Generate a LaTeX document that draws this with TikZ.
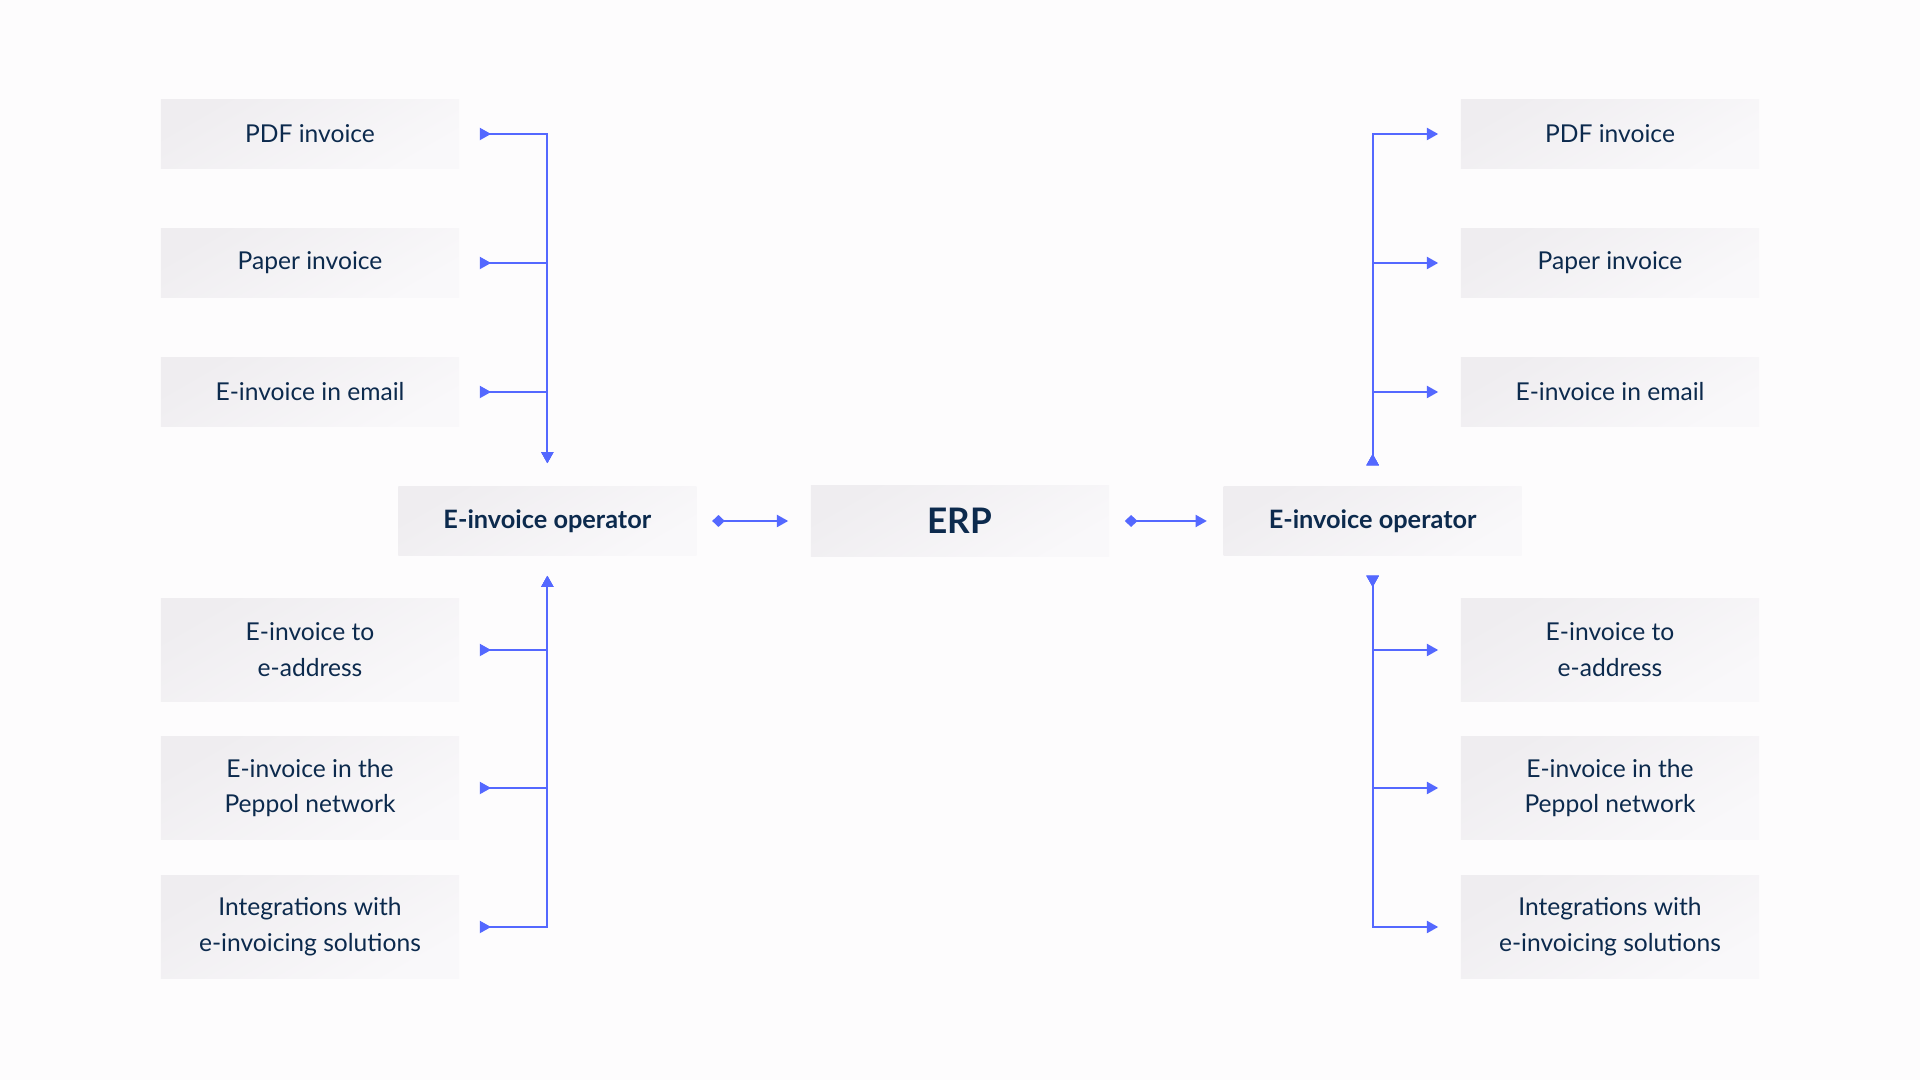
\documentclass[tikz,border=0pt]{standalone}
\usepackage{fontspec}
\setmainfont{Lato}
\usetikzlibrary{positioning, arrows.meta}
\definecolor{navy}{HTML}{0C2A4D}
\definecolor{linkBlue}{HTML}{5468FF}
\definecolor{boxDark}{HTML}{EFEDF0}
\definecolor{boxLight}{HTML}{F9F8FA}
\definecolor{pageBg}{HTML}{FDFCFD}
\tikzstyle{invoiceBox} = [shape=rectangle, inner sep=0pt, text=navy, align=center,
	top color=boxDark, bottom color=boxLight, shading angle=30,
	minimum width=2.98cm, font=\fontsize{7}{10.2}\selectfont]
\tikzstyle{singleBox} = [invoiceBox, minimum height=0.68cm]
\tikzstyle{doubleBox} = [invoiceBox, minimum height=1.03cm]
\tikzstyle{hubBox} = [invoiceBox, minimum height=0.68cm, font=\fontsize{7.2}{10.2}\selectfont\bfseries]
\tikzstyle{flowArrow} = [line width=0.6pt, draw=linkBlue, {Triangle[reversed, length=3.2pt, width=3.4pt]}-{Triangle[length=3.2pt, width=3.4pt]}]
\tikzstyle{linkArrow} = [line width=0.6pt, draw=linkBlue, {Diamond[length=3.6pt, width=3.4pt]}-{Triangle[length=3.2pt, width=3.4pt]}]

\begin{document}
\begin{tikzpicture}[x=0.01cm, y=-0.01cm, node distance=1.13cm]
  \fill[pageBg] (0,0) rectangle (1920,1080);
  \useasboundingbox (0,0) rectangle (1920,1080);

  \node (erp) at (960,521) [invoiceBox, minimum height=0.71cm, font=\fontsize{10}{12}\selectfont\bfseries] {ERP};
  \node (opL) [hubBox, left=of erp] {E-invoice operator};
  \node (opR) [hubBox, right=of erp] {E-invoice operator};

  % left column
  \node (pdfL) at (310,134) [singleBox] {PDF invoice};
  \node (paperL) at (310,263) [singleBox] {Paper invoice};
  \node (mailL) at (310,392) [singleBox] {E-invoice in email};
  \node (addrL) at (310,650) [doubleBox] {E-invoice to\\e-address};
  \node (peppolL) at (310,788) [doubleBox] {E-invoice in the\\Peppol network};
  \node (integL) at (310,927) [doubleBox] {Integrations with\\e-invoicing solutions};

  % right column
  \node (pdfR) at (1610,134) [singleBox] {PDF invoice};
  \node (paperR) at (1610,263) [singleBox] {Paper invoice};
  \node (mailR) at (1610,392) [singleBox] {E-invoice in email};
  \node (addrR) at (1610,650) [doubleBox] {E-invoice to\\e-address};
  \node (peppolR) at (1610,788) [doubleBox] {E-invoice in the\\Peppol network};
  \node (integR) at (1610,927) [doubleBox] {Integrations with\\e-invoicing solutions};

  \foreach \b in {pdfL, paperL, mailL}
    \draw [flowArrow] ([xshift=0.2cm]\b.east) -| ([yshift=0.23cm]opL.north);
  \foreach \b in {addrL, peppolL, integL}
    \draw [flowArrow] ([xshift=0.2cm]\b.east) -| ([yshift=-0.2cm]opL.south);
  \foreach \b in {pdfR, paperR, mailR}
    \draw [flowArrow] ([yshift=0.21cm]opR.north) |- ([xshift=-0.22cm]\b.west);
  \foreach \b in {addrR, peppolR, integR}
    \draw [flowArrow] ([yshift=-0.2cm]opR.south) |- ([xshift=-0.22cm]\b.west);

  \draw [linkArrow, shorten <=0.15cm, shorten >=0.22cm] (opL.east) -- (erp.west);
  \draw [linkArrow, shorten <=0.15cm, shorten >=0.16cm] (erp.east) -- (opR.west);
\end{tikzpicture}
\end{document}
